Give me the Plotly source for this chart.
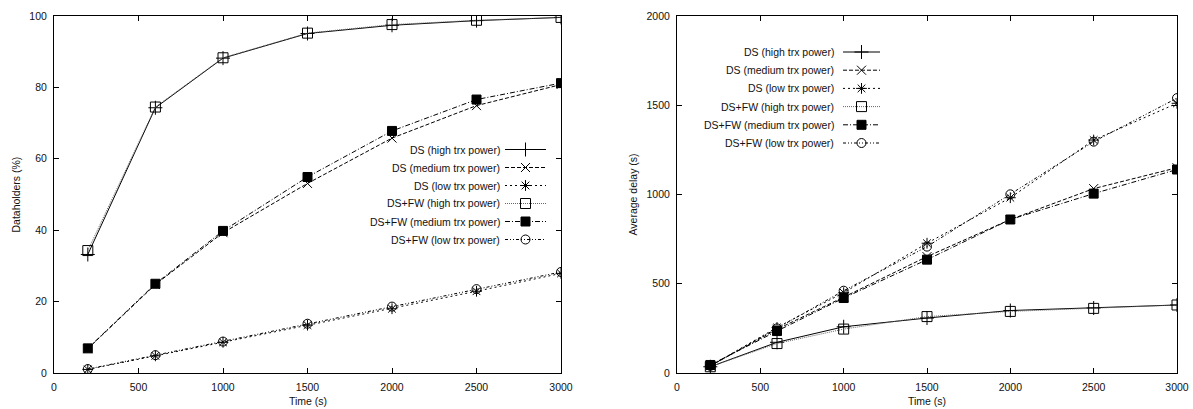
import plotly.graph_objects as go

# Simulation time (s)
time_s = [200, 600, 1000, 1500, 2000, 2500, 3000]

series_names = [
    "DS (high trx power)",
    "DS (medium trx power)",
    "DS (low trx power)",
    "DS+FW (high trx power)",
    "DS+FW (medium trx power)",
    "DS+FW (low trx power)",
]

# Dataholders (%)
holders_ds_high = [33.2, 74.3, 88.2, 95.1, 97.4, 98.7, 99.6]
holders_ds_medium = [6.8, 24.8, 39.3, 53.1, 65.8, 74.9, 80.8]
holders_ds_low = [1.0, 4.8, 8.6, 13.4, 18.0, 22.9, 27.9]
holders_fw_high = [34.3, 74.5, 88.3, 95.2, 97.6, 98.8, 99.6]
holders_fw_medium = [6.9, 25.0, 39.8, 54.9, 67.8, 76.6, 81.2]
holders_fw_low = [1.1, 5.0, 8.8, 13.8, 18.6, 23.5, 28.3]

# Average delay (s)
delay_ds_high = [35, 172, 259, 308, 350, 364, 381]
delay_ds_medium = [40, 245, 425, 652, 860, 1033, 1150]
delay_ds_low = [40, 255, 450, 727, 982, 1305, 1511]
delay_fw_high = [35, 165, 246, 316, 345, 362, 381]
delay_fw_medium = [45, 235, 420, 635, 860, 1005, 1140]
delay_fw_low = [40, 250, 461, 708, 1001, 1296, 1540]

holders = [holders_ds_high, holders_ds_medium, holders_ds_low,
           holders_fw_high, holders_fw_medium, holders_fw_low]
delays = [delay_ds_high, delay_ds_medium, delay_ds_low,
          delay_fw_high, delay_fw_medium, delay_fw_low]

W, H = 1193, 409
FONT = "Liberation Sans, Arial, Helvetica, sans-serif"
INK = "#111111"

styles = [
    dict(dash="solid", color="#000000", symbol="cross-thin-open", size=10),
    dict(dash="4px,2px", color="#000000", symbol="x-thin-open", size=9),
    dict(dash="2px,3px", color="#000000", symbol="asterisk-open", size=9),
    dict(dash="1px,1px", color="#666666", symbol="square-open", size=10),
    dict(dash="5px,2px,1px,2px", color="#000000", symbol="square", size=9),
    dict(dash="3px,2px,1px,2px,1px,2px", color="#000000", symbol="circle-open", size=9),
]


def marker_for(st):
    return dict(symbol=st["symbol"], size=st["size"], color="#000000",
                line=dict(color="#000000", width=1))


fig = go.Figure()

for name, ys, st in zip(series_names, holders, styles):
    fig.add_trace(go.Scatter(
        x=time_s, y=ys, name=name, mode="lines+markers", xaxis="x", yaxis="y",
        line=dict(color=st["color"], width=1, dash=st["dash"]),
        marker=marker_for(st), showlegend=False))

for name, ys, st in zip(series_names, delays, styles):
    fig.add_trace(go.Scatter(
        x=time_s, y=ys, name=name, mode="lines+markers", xaxis="x2", yaxis="y2",
        line=dict(color=st["color"], width=1, dash=st["dash"]),
        marker=marker_for(st), showlegend=False))

# Key boxes: text right-aligned, line sample with marker to its right (pixel space)
keys = [
    dict(text_end=502, x0=505, x1=546, rows=[149.5, 167.5, 185.5, 203.5, 221.5, 239.5]),
    dict(text_end=836, x0=843, x1=880, rows=[52, 70.2, 88.4, 106.6, 124.8, 143]),
]
annotations = []
for key in keys:
    xm = (key["x0"] + key["x1"]) / 2
    for name, st, yr in zip(series_names, styles, key["rows"]):
        fig.add_trace(go.Scatter(
            x=[key["x0"], key["x1"]], y=[yr, yr], mode="lines", xaxis="x3", yaxis="y3",
            line=dict(color=st["color"], width=1, dash=st["dash"]),
            showlegend=False, hoverinfo="skip"))
        fig.add_trace(go.Scatter(
            x=[xm], y=[yr], mode="markers", xaxis="x3", yaxis="y3",
            marker=marker_for(st), showlegend=False, hoverinfo="skip"))
        annotations.append(dict(
            x=key["text_end"] / W, y=1 - yr / H, xref="paper", yref="paper",
            text=name, showarrow=False, xanchor="right", yanchor="middle",
            font=dict(family=FONT, size=10.5, color=INK)))

# Axis titles
annotations += [
    dict(x=307.5 / W, y=1 - 401 / H, xref="paper", yref="paper", text="Time (s)",
         showarrow=False, xanchor="center", yanchor="middle",
         font=dict(family=FONT, size=10.5, color=INK)),
    dict(x=927 / W, y=1 - 401 / H, xref="paper", yref="paper", text="Time (s)",
         showarrow=False, xanchor="center", yanchor="middle",
         font=dict(family=FONT, size=10.5, color=INK)),
    dict(x=15 / W, y=1 - 194.5 / H, xref="paper", yref="paper", text="Dataholders (%)",
         showarrow=False, textangle=-90, xanchor="center", yanchor="middle",
         font=dict(family=FONT, size=10.5, color=INK)),
    dict(x=632 / W, y=1 - 194.5 / H, xref="paper", yref="paper", text="Average delay (s)",
         showarrow=False, textangle=-90, xanchor="center", yanchor="middle",
         font=dict(family=FONT, size=10.5, color=INK)),
]

y_dom = [36 / H, 393 / H]
axis_common = dict(
    showline=True, linecolor="#000000", linewidth=1, mirror="allticks",
    ticks="inside", ticklen=5, tickcolor="#000000", tickwidth=1,
    showgrid=False, zeroline=False, automargin=False,
    tickfont=dict(family=FONT, size=10.5, color=INK),
)

fig.update_layout(
    width=W, height=H,
    margin=dict(l=0, r=0, t=0, b=0),
    paper_bgcolor="#ffffff", plot_bgcolor="rgba(0,0,0,0)",
    xaxis=dict(domain=[54 / W, 561 / W], range=[0, 3000], dtick=500, anchor="y",
               ticklabelstandoff=4, **axis_common),
    yaxis=dict(domain=y_dom, range=[0, 100], dtick=20, anchor="x",
               ticklabelstandoff=4, **axis_common),
    xaxis2=dict(domain=[677 / W, 1177 / W], range=[0, 3000], dtick=500, anchor="y2",
                ticklabelstandoff=4, **axis_common),
    yaxis2=dict(domain=y_dom, range=[0, 2000], dtick=500, anchor="x2",
                ticklabelstandoff=4, **axis_common),
    xaxis3=dict(domain=[0, 1], range=[0, W], visible=False, anchor="y3", fixedrange=True),
    yaxis3=dict(domain=[0, 1], range=[H, 0], visible=False, anchor="x3", fixedrange=True),
    annotations=annotations,
    showlegend=False,
)

fig.write_html("out.html")
